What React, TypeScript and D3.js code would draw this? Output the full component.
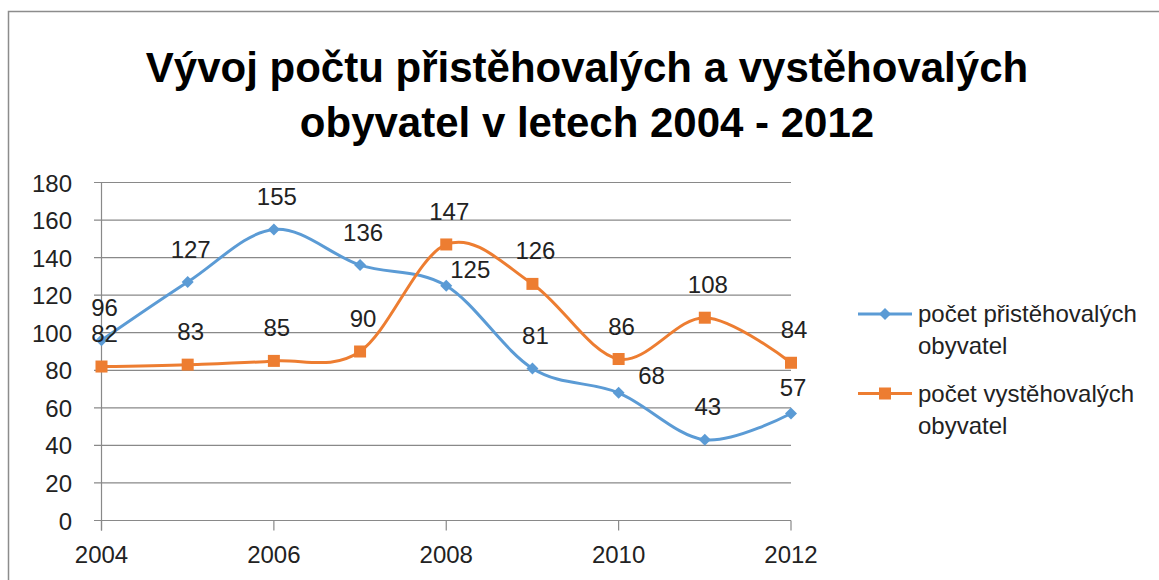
import React from "react";
import * as d3 from "d3";

const years = [2004, 2005, 2006, 2007, 2008, 2009, 2010, 2011, 2012];
const immigrants = [96, 127, 155, 136, 125, 81, 68, 43, 57];
const emigrants = [82, 83, 85, 90, 147, 126, 86, 108, 84];
const yTicks = [0, 20, 40, 60, 80, 100, 120, 140, 160, 180];
const xTickYears = [2004, 2006, 2008, 2010, 2012];
const seriesNames = ["počet přistěhovalých obyvatel", "počet vystěhovalých obyvatel"];
const titleLines = ["Vývoj počtu přistěhovalých a vystěhovalých", "obyvatel v letech 2004 - 2012"];

// layout
const W = 1159;
const H = 580;
const FONT = "'Liberation Sans', Arial, sans-serif";
const BLUE = "#5B9BD5";
const ORANGE = "#ED7D31";
const GRID = "#898989";

// manual label nudges (dx, dy of label centre relative to point), for series 0
const immLabelNudge: Record<number, [number, number]> = {
  4: [24, -16.5],
  6: [33, -17.7],
  8: [2, -26],
};

export default function App() {
  const x = d3.scaleLinear().domain([2004, 2012]).range([101.5, 791]);
  const y = d3.scaleLinear().domain([0, 180]).range([520.5, 182.5]);

  const line = d3
    .line<number>()
    .x((_, i) => x(years[i]))
    .y((d) => y(d))
    .curve(d3.curveCardinal.tension(0));

  const diamond = (cx: number, cy: number, r: number) =>
    `M${cx},${cy - r}L${cx + r},${cy}L${cx},${cy + r}L${cx - r},${cy}Z`;

  const labelStyle = { fontFamily: FONT, fontSize: 24, fill: "#222" };

  const series = [
    { values: immigrants, color: BLUE, marker: "diamond" },
    { values: emigrants, color: ORANGE, marker: "square" },
  ];

  const legendEntries = [
    { name: seriesNames[0], lineY: 314, color: BLUE, marker: "diamond" },
    { name: seriesNames[1], lineY: 393.5, color: ORANGE, marker: "square" },
  ];

  return (
    <svg
      width={W}
      height={H}
      style={{ position: "absolute", left: 0, top: 0, display: "block", background: "#fff" }}
    >
      <rect x={0} y={0} width={W} height={H} fill="#fff" />
      {/* outer border */}
      <rect x={8.5} y={11.5} width={W + 20} height={H + 20} fill="none" stroke="#8c8c8c" strokeWidth={1.5} />

      {/* title */}
      {titleLines.map((t, i) => (
        <text
          key={i}
          x={587}
          y={82 + i * 55}
          textAnchor="middle"
          style={{ fontFamily: FONT, fontSize: 42, fontWeight: "bold", fill: "#000" }}
        >
          {t}
        </text>
      ))}

      {/* gridlines + y ticks */}
      {yTicks.map((v) => (
        <g key={v}>
          <line x1={94} x2={791} y1={y(v)} y2={y(v)} stroke={GRID} strokeWidth={1.2} />
          <text x={72} y={y(v) + 9} textAnchor="end" style={labelStyle}>
            {v}
          </text>
        </g>
      ))}
      {/* y axis line */}
      <line x1={x(2004)} x2={x(2004)} y1={y(180)} y2={y(0) + 10} stroke={GRID} strokeWidth={1.2} />
      {/* x ticks + labels */}
      {xTickYears.map((yr) => (
        <g key={yr}>
          <line x1={x(yr)} x2={x(yr)} y1={y(0)} y2={y(0) + 10} stroke={GRID} strokeWidth={1.2} />
          <text x={x(yr)} y={563} textAnchor="middle" style={labelStyle}>
            {yr}
          </text>
        </g>
      ))}

      {/* series */}
      {series.map((s, si) => (
        <g key={si}>
          <path d={line(s.values) || ""} fill="none" stroke={s.color} strokeWidth={3} strokeLinejoin="round" />
          {s.values.map((v, i) =>
            s.marker === "diamond" ? (
              <path key={i} d={diamond(x(years[i]), y(v), 6)} fill={s.color} />
            ) : (
              <rect key={i} x={x(years[i]) - 6} y={y(v) - 6} width={12} height={12} fill={s.color} />
            )
          )}
        </g>
      ))}

      {/* data labels */}
      {series.map((s, si) =>
        s.values.map((v, i) => {
          const nudge = si === 0 && immLabelNudge[i] ? immLabelNudge[i] : [3, -33];
          return (
            <text
              key={`${si}-${i}`}
              x={x(years[i]) + nudge[0]}
              y={y(v) + nudge[1] + 8.5}
              textAnchor="middle"
              style={labelStyle}
            >
              {v}
            </text>
          );
        })
      )}

      {/* legend */}
      {legendEntries.map((e, i) => {
        const words = e.name.split(" ");
        const l1 = words.slice(0, 2).join(" ");
        const l2 = words.slice(2).join(" ");
        return (
          <g key={i}>
            <line x1={858} x2={912} y1={e.lineY} y2={e.lineY} stroke={e.color} strokeWidth={3} />
            {e.marker === "diamond" ? (
              <path d={diamond(885, e.lineY, 6)} fill={e.color} />
            ) : (
              <rect x={879} y={e.lineY - 6} width={12} height={12} fill={e.color} />
            )}
            <text x={918} y={e.lineY + 8} style={labelStyle}>
              {l1}
            </text>
            <text x={918} y={e.lineY + 40} style={labelStyle}>
              {l2}
            </text>
          </g>
        );
      })}
    </svg>
  );
}
